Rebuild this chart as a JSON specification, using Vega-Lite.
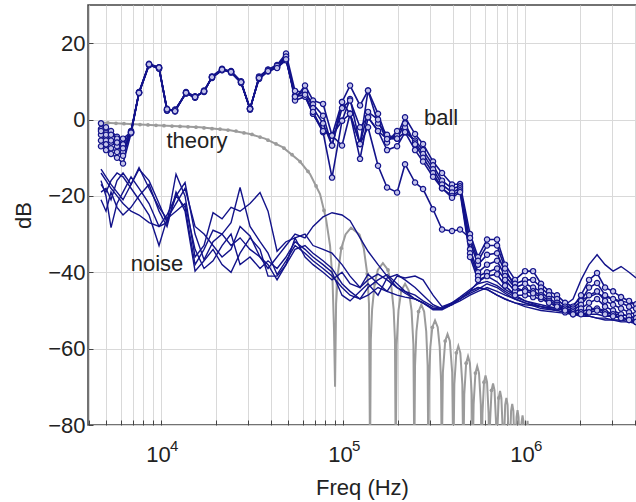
{
"$schema": "https://vega.github.io/schema/vega-lite/v6.json",
"width": 548, "height": 420,
"autosize": {"type": "none"},
"padding": {"left": 88, "top": 5, "right": 0, "bottom": 77},
"config": {
  "font": "Liberation Sans",
  "view": {"stroke": "#444444", "strokeWidth": 1.5},
  "axis": {"gridColor": "#d9d9d9", "gridWidth": 1, "domain": false, "labelFontSize": 22, "titleFontSize": 22, "titleFontWeight": "normal", "labelColor": "#222222", "titleColor": "#222222", "tickColor": "#444444", "labelFont": "Liberation Sans", "titleFont": "Liberation Sans"}
},
"datasets": {
"theory": [
{"f":4620,"dB":-0.8},{"f":8700,"dB":-1.4},{"f":16380,"dB":-2.0},{"f":23940,"dB":-2.8},{"f":30830,"dB":-3.8},{"f":37270,"dB":-5.0},{"f":46810,"dB":-7.3},{"f":58030,"dB":-11},{"f":65860,"dB":-14.3},{"f":74750,"dB":-19.5},{"f":80640,"dB":-26},{"f":84840,"dB":-33},{"f":87540,"dB":-42},{"f":89210,"dB":-55},{"f":90400,"dB":-70},
{"f":91590,"dB":-48.3},{"f":93640,"dB":-40.4},{"f":97870,"dB":-33.7},{"f":103210,"dB":-30.1},{"f":110650,"dB":-28.3},{"f":123220,"dB":-30.1},{"f":129950,"dB":-33.7},{"f":135840,"dB":-40.4},{"f":138880,"dB":-48.3},{"f":140740,"dB":-90},
{"f":142120,"dB":-57.6},{"f":144460,"dB":-49.7},{"f":149240,"dB":-43},{"f":155180,"dB":-39.4},{"f":165550,"dB":-37.6},{"f":176610,"dB":-39.4},{"f":183630,"dB":-43},{"f":189700,"dB":-49.7},{"f":192830,"dB":-57.6},{"f":194720,"dB":-90},
{"f":197020,"dB":-59},{"f":201710,"dB":-50},{"f":208950,"dB":-44.8},{"f":219140,"dB":-43},{"f":229660,"dB":-44.8},{"f":237910,"dB":-50},{"f":243570,"dB":-59},{"f":246450,"dB":-90},
{"f":248640,"dB":-64.5},{"f":253080,"dB":-55.5},{"f":259890,"dB":-50.3},{"f":269260,"dB":-48.5},{"f":278960,"dB":-50.3},{"f":286470,"dB":-55.5},{"f":291600,"dB":-64.5},{"f":294190,"dB":-90},
{"f":296690,"dB":-68.6},{"f":301770,"dB":-59.6},{"f":309530,"dB":-54.4},{"f":320200,"dB":-52.6},{"f":331250,"dB":-54.4},{"f":339770,"dB":-59.6},{"f":345580,"dB":-68.6},{"f":348520,"dB":-90},
{"f":353680,"dB":-66.2},{"f":364220,"dB":-58},{"f":375070,"dB":-56.2},{"f":386230,"dB":-58},{"f":397790,"dB":-66.2},{"f":403660,"dB":-90},
{"f":408800,"dB":-69.3},{"f":419270,"dB":-61.1},{"f":430000,"dB":-59.3},{"f":441000,"dB":-61.1},{"f":452290,"dB":-69.3},{"f":458050,"dB":-90},
{"f":463520,"dB":-72},{"f":474670,"dB":-63.8},{"f":486090,"dB":-62},{"f":497770,"dB":-63.8},{"f":509760,"dB":-72},{"f":515850,"dB":-90},
{"f":521750,"dB":-74.6},{"f":533760,"dB":-66.4},{"f":546030,"dB":-64.6},{"f":558600,"dB":-66.4},{"f":571470,"dB":-74.6},{"f":578010,"dB":-90},
{"f":583590,"dB":-77},{"f":594950,"dB":-68.8},{"f":606500,"dB":-67},{"f":618270,"dB":-68.8},{"f":630470,"dB":-77},{"f":636560,"dB":-90},
{"f":642550,"dB":-79.1},{"f":654680,"dB":-70.9},{"f":667060,"dB":-69.1},{"f":679670,"dB":-70.9},{"f":692510,"dB":-79.1},{"f":699030,"dB":-90},
{"f":704880,"dB":-81.1},{"f":716750,"dB":-72.9},{"f":728840,"dB":-71.1},{"f":741120,"dB":-72.9},{"f":753600,"dB":-81.1},{"f":760140,"dB":-90},
{"f":777700,"dB":-74.7},{"f":789620,"dB":-72.9},{"f":801700,"dB":-74.7},{"f":820190,"dB":-90},
{"f":838120,"dB":-76.3},{"f":850310,"dB":-74.5},{"f":862650,"dB":-76.3},{"f":881110,"dB":-90},
{"f":898020,"dB":-77.9},{"f":909460,"dB":-76.1},{"f":921060,"dB":-77.9},{"f":938670,"dB":-90},
{"f":956680,"dB":-79.3},{"f":968860,"dB":-77.5},{"f":981210,"dB":-79.3},{"f":1000000,"dB":-90},
{"f":1032130,"dB":-78.9},{"f":1065300,"dB":-90}
],
"theoryDots": [
{"f":4620,"dB":-0.8},{"f":5112,"dB":-0.9},{"f":5657,"dB":-1.0},{"f":6260,"dB":-1.1},{"f":6927,"dB":-1.2},{"f":7665,"dB":-1.3},{"f":8481,"dB":-1.4},{"f":9385,"dB":-1.5},{"f":10385,"dB":-1.6},{"f":11491,"dB":-1.7},{"f":12715,"dB":-1.8},{"f":14070,"dB":-1.9},{"f":15569,"dB":-2.0},{"f":17228,"dB":-2.2},{"f":19063,"dB":-2.4},{"f":21094,"dB":-2.5},{"f":23341,"dB":-2.75},{"f":25828,"dB":-3.0},{"f":28579,"dB":-3.5},{"f":31624,"dB":-3.9},{"f":34993,"dB":-4.6},{"f":38721,"dB":-5.4},{"f":42846,"dB":-6.4},{"f":47410,"dB":-7.5},{"f":52461,"dB":-9.2},{"f":58050,"dB":-11.0},{"f":64234,"dB":-13.6},{"f":71077,"dB":-17.4},{"f":78649,"dB":-23.8},
{"f":97870,"dB":-33.7},{"f":135840,"dB":-40.4},{"f":149240,"dB":-43},{"f":176610,"dB":-39.4},{"f":208950,"dB":-44.8},{"f":259890,"dB":-50.3},{"f":309530,"dB":-54.4},{"f":364220,"dB":-58},{"f":419270,"dB":-61.1},{"f":474670,"dB":-63.8},{"f":533760,"dB":-66.4},{"f":594950,"dB":-68.8},{"f":654680,"dB":-70.9},{"f":716750,"dB":-72.9}
],
"ball": [
{"f":4680,"b1":-1,"b2":-2.5,"b3":-4,"b4":-5.5,"b5":-7,"b6":-3},
{"f":4986,"b1":-2,"b2":-3.5,"b3":-5.5,"b4":-6.5,"b5":-8,"b6":-4},
{"f":5312,"b1":-3,"b2":-4,"b3":-6,"b4":-7.5,"b5":-9,"b6":-5.5},
{"f":5731,"b1":-4.5,"b2":-5,"b3":-7,"b4":-8.5,"b5":-10,"b6":-6},
{"f":6183,"b1":-5,"b2":-6.5,"b3":-8.5,"b4":-9.5,"b5":-11.5,"b6":-7.5},
{"f":6842,"b1":-3.3,"b2":-3.0,"b3":-3.5,"b4":-3.2,"b5":-3.6,"b6":-3.4},
{"f":7570,"b1":7.1,"b2":7.0,"b3":7.2,"b4":6.9,"b5":7.1,"b6":7.0},
{"f":8593,"b1":14.5,"b2":14.3,"b3":14.6,"b4":14.2,"b5":14.4,"b6":14.5},
{"f":9750,"b1":13.6,"b2":13.4,"b3":13.7,"b4":13.5,"b5":13.3,"b6":13.6},
{"f":10790,"b1":2.5,"b2":2.8,"b3":2.3,"b4":2.6,"b5":2.4,"b6":2.7},
{"f":11940,"b1":2.4,"b2":2.1,"b3":2.6,"b4":2.3,"b5":2.5,"b6":2.2},
{"f":13720,"b1":7.0,"b2":7.2,"b3":6.8,"b4":7.1,"b5":6.9,"b6":7.0},
{"f":15380,"b1":5.9,"b2":6.1,"b3":5.8,"b4":6.0,"b5":5.7,"b6":5.9},
{"f":17230,"b1":7.4,"b2":7.2,"b3":7.5,"b4":7.3,"b5":7.6,"b6":7.4},
{"f":19060,"b1":11.1,"b2":11.3,"b3":10.9,"b4":11.2,"b5":11.0,"b6":11.1},
{"f":21640,"b1":13.1,"b2":13.3,"b3":12.9,"b4":13.0,"b5":13.2,"b6":13.1},
{"f":24250,"b1":12.5,"b2":12.3,"b3":12.6,"b4":12.4,"b5":12.7,"b6":12.5},
{"f":27520,"b1":9.8,"b2":9.6,"b3":10.0,"b4":9.7,"b5":9.9,"b6":9.8},
{"f":30830,"b1":2.8,"b2":3.0,"b3":2.6,"b4":2.9,"b5":2.7,"b6":2.8},
{"f":34550,"b1":11.0,"b2":10.6,"b3":11.3,"b4":10.8,"b5":11.1,"b6":10.9},
{"f":38720,"b1":12.9,"b2":12.6,"b3":13.1,"b4":12.8,"b5":13.0,"b6":12.7},
{"f":43400,"b1":14.0,"b2":13.6,"b3":14.3,"b4":13.8,"b5":14.1,"b6":13.5},
{"f":48620,"b1":16.8,"b2":15.5,"b3":17.3,"b4":16.0,"b5":16.5,"b6":15.8},
{"f":54480,"b1":5.4,"b2":6.3,"b3":7.5,"b4":6.0,"b5":5.0,"b6":6.0},
{"f":61830,"b1":8.9,"b2":6.3,"b3":7.0,"b4":7.5,"b5":6.0,"b6":6.5},
{"f":68420,"b1":5.0,"b2":1.5,"b3":4.0,"b4":3.0,"b5":1.5,"b6":2.0},
{"f":77660,"b1":4.1,"b2":-3.3,"b3":1.0,"b4":-1.0,"b5":-3.0,"b6":-3.0},
{"f":87000,"b1":-4.2,"b2":-15.2,"b3":-6.8,"b4":-6.8,"b5":-4.2,"b6":-4.2},
{"f":98740,"b1":4.6,"b2":-0.3,"b3":4.6,"b4":3.0,"b5":-6.8,"b6":-0.3},
{"f":109300,"b1":8.9,"b2":5.4,"b3":1.5,"b4":5.0,"b5":1.5,"b6":1.5},
{"f":124000,"b1":3.7,"b2":-6.4,"b3":-6.4,"b4":-2.0,"b5":-10.3,"b6":-6.4},
{"f":137200,"b1":7.6,"b2":7.6,"b3":2.0,"b4":0.6,"b5":0.6,"b6":-2.0},
{"f":155700,"b1":1.5,"b2":-1.0,"b3":0.0,"b4":-3.0,"b5":-3.0,"b6":-12.1},
{"f":174500,"b1":-5.1,"b2":-4.0,"b3":-6.0,"b4":-5.1,"b5":-8.0,"b6":-17.8},
{"f":198100,"b1":-4.2,"b2":-5.0,"b3":-3.0,"b4":-5.0,"b5":-7.0,"b6":-19.1},
{"f":219100,"b1":0.6,"b2":-3.3,"b3":-2.0,"b4":-1.0,"b5":-3.3,"b6":-11.7},
{"f":248700,"b1":-3.8,"b2":-5.5,"b3":-6.0,"b4":-6.5,"b5":-8.0,"b6":-16.5},
{"f":275200,"b1":-6.4,"b2":-8.0,"b3":-9.0,"b4":-10.0,"b5":-11.0,"b6":-18.2},
{"f":312200,"b1":-11.0,"b2":-12.0,"b3":-13.0,"b4":-14.0,"b5":-15.0,"b6":-23.5},
{"f":349900,"b1":-14.0,"b2":-16.0,"b3":-17.0,"b4":-18.0,"b5":-18.0,"b6":-28.8},
{"f":397000,"b1":-17.0,"b2":-18.0,"b3":-19.1,"b4":-20.0,"b5":-20.5,"b6":-29.2},
{"f":439400,"b1":-16.9,"b2":-17.5,"b3":-18.0,"b4":-18.5,"b5":-19.0,"b6":-28.8},
{"f":498600,"b1":-30,"b2":-32,"b3":-34,"b4":-35,"b5":-36,"b6":-31},
{"f":551700,"b1":-36,"b2":-38,"b3":-40,"b4":-41,"b5":-42,"b6":-37},
{"f":618300,"b1":-31.4,"b2":-35.4,"b3":-38,"b4":-40,"b5":-41,"b6":-33},
{"f":701700,"b1":-31.4,"b2":-35,"b3":-37,"b4":-39,"b5":-40.5,"b6":-33},
{"f":776400,"b1":-38,"b2":-40,"b3":-41,"b4":-42,"b5":-43.5,"b6":-39},
{"f":881200,"b1":-42,"b2":-43,"b3":-44,"b4":-45,"b5":-46,"b6":-44},
{"f":1000000,"b1":-39.7,"b2":-42,"b3":-43,"b4":-44.5,"b5":-46,"b6":-45},
{"f":1107000,"b1":-39.7,"b2":-42,"b3":-44,"b4":-45,"b5":-46.5,"b6":-45.5},
{"f":1224000,"b1":-43,"b2":-44,"b3":-45,"b4":-46,"b5":-47,"b6":-46.5},
{"f":1355000,"b1":-45,"b2":-46,"b3":-47,"b4":-47.5,"b5":-48,"b6":-48},
{"f":1499000,"b1":-46,"b2":-47,"b3":-48,"b4":-48.5,"b5":-49,"b6":-49},
{"f":1659000,"b1":-48,"b2":-49,"b3":-49.5,"b4":-50,"b5":-50.5,"b6":-50},
{"f":1835000,"b1":-49,"b2":-49.5,"b3":-50,"b4":-50.5,"b5":-51,"b6":-51},
{"f":2031000,"b1":-46,"b2":-47.5,"b3":-48.5,"b4":-49.5,"b5":-50.5,"b6":-51},
{"f":2247000,"b1":-42,"b2":-44,"b3":-46,"b4":-48,"b5":-49.5,"b6":-50.5},
{"f":2487000,"b1":-40.2,"b2":-42.8,"b3":-45,"b4":-47,"b5":-49.5,"b6":-50},
{"f":2752000,"b1":-44,"b2":-46,"b3":-47.5,"b4":-49,"b5":-50.5,"b6":-51},
{"f":3045000,"b1":-45,"b2":-47,"b3":-48.5,"b4":-50,"b5":-51,"b6":-51.5},
{"f":3369000,"b1":-46.5,"b2":-48,"b3":-49.5,"b4":-51,"b5":-52,"b6":-52},
{"f":3727000,"b1":-47.5,"b2":-49,"b3":-50.5,"b4":-51.5,"b5":-52.5,"b6":-52.5},
{"f":4073000,"b1":-48.4,"b2":-49.5,"b3":-51,"b4":-52,"b5":-53,"b6":-53}
],
"noise": [
{"f":4680,"n1":-13,"n2":-16,"n3":-19,"n4":-21,"n5":-17,"n6":-14},
{"f":4986,"n1":-15,"n2":-20,"n3":-18,"n4":-24,"n5":-19,"n6":-16},
{"f":5312,"n1":-17,"n2":-28.3,"n3":-21,"n4":-19,"n5":-16,"n6":-18},
{"f":5731,"n1":-19,"n2":-22,"n3":-16,"n4":-23,"n5":-14,"n6":-20},
{"f":6183,"n1":-21,"n2":-19,"n3":-14,"n4":-25,"n5":-15,"n6":-22},
{"f":6842,"n1":-17,"n2":-15,"n3":-17,"n4":-23,"n5":-18,"n6":-24},
{"f":7570,"n1":-13,"n2":-18,"n3":-12.6,"n4":-20,"n5":-21,"n6":-25},
{"f":8593,"n1":-16,"n2":-22,"n3":-18,"n4":-17,"n5":-25,"n6":-27},
{"f":9750,"n1":-22,"n2":-28,"n3":-23,"n4":-24,"n5":-33,"n6":-28},
{"f":10790,"n1":-27,"n2":-27,"n3":-26,"n4":-28,"n5":-26,"n6":-25},
{"f":12090,"n1":-14.3,"n2":-20,"n3":-22,"n4":-19,"n5":-24,"n6":-20},
{"f":13550,"n1":-20,"n2":-16.5,"n3":-18,"n4":-24,"n5":-22,"n6":-23},
{"f":15380,"n1":-36,"n2":-30,"n3":-28,"n4":-39.7,"n5":-34,"n6":-38},
{"f":17230,"n1":-33,"n2":-36.7,"n3":-30,"n4":-37,"n5":-39,"n6":-34},
{"f":19310,"n1":-24.4,"n2":-32,"n3":-33,"n4":-34,"n5":-37,"n6":-29},
{"f":21640,"n1":-26,"n2":-30,"n3":-36,"n4":-38,"n5":-33,"n6":-30},
{"f":24250,"n1":-23,"n2":-27,"n3":-34,"n4":-40,"n5":-30,"n6":-33},
{"f":27180,"n1":-24,"n2":-17.8,"n3":-28,"n4":-35,"n5":-38,"n6":-31},
{"f":30830,"n1":-22,"n2":-28,"n3":-30.5,"n4":-31,"n5":-36,"n6":-34},
{"f":34990,"n1":-19.1,"n2":-32,"n3":-36,"n4":-34,"n5":-39,"n6":-36},
{"f":38720,"n1":-24,"n2":-35,"n3":-38,"n4":-41,"n5":-37,"n6":-39},
{"f":43400,"n1":-34.5,"n2":-40.6,"n3":-42,"n4":-41,"n5":-39,"n6":-36},
{"f":48620,"n1":-32,"n2":-37,"n3":-38,"n4":-38,"n5":-36,"n6":-33},
{"f":54480,"n1":-31,"n2":-33,"n3":-31,"n4":-34,"n5":-32,"n6":-30},
{"f":61830,"n1":-30,"n2":-35,"n3":-36,"n4":-33,"n5":-34,"n6":-31},
{"f":68420,"n1":-33,"n2":-37,"n3":-38,"n4":-35,"n5":-36,"n6":-28},
{"f":77660,"n1":-34,"n2":-39,"n3":-40,"n4":-37,"n5":-38,"n6":-25.5},
{"f":87000,"n1":-35,"n2":-41,"n3":-42,"n4":-39,"n5":-40,"n6":-24.4},
{"f":98740,"n1":-38,"n2":-44,"n3":-40,"n4":-43,"n5":-46,"n6":-25},
{"f":109300,"n1":-41,"n2":-46,"n3":-43,"n4":-45,"n5":-47.5,"n6":-26.5},
{"f":124000,"n1":-44,"n2":-47,"n3":-44,"n4":-47,"n5":-45,"n6":-31},
{"f":137200,"n1":-42,"n2":-44,"n3":-40.5,"n4":-46,"n5":-43,"n6":-34.5},
{"f":155700,"n1":-40.5,"n2":-42,"n3":-43,"n4":-44,"n5":-46,"n6":-38},
{"f":174500,"n1":-42,"n2":-40.6,"n3":-45,"n4":-45,"n5":-41.5,"n6":-41},
{"f":198100,"n1":-44,"n2":-43,"n3":-46,"n4":-41,"n5":-40.6,"n6":-44},
{"f":219100,"n1":-45,"n2":-45,"n3":-46.5,"n4":-41.5,"n5":-42,"n6":-45.5},
{"f":248700,"n1":-47,"n2":-46,"n3":-47,"n4":-41,"n5":-44,"n6":-47},
{"f":275200,"n1":-48,"n2":-47.5,"n3":-48,"n4":-42,"n5":-46,"n6":-48},
{"f":312200,"n1":-49.5,"n2":-49,"n3":-49.5,"n4":-46,"n5":-48.5,"n6":-49.8},
{"f":349900,"n1":-49.4,"n2":-49.4,"n3":-49.5,"n4":-49,"n5":-49.5,"n6":-49.8},
{"f":397000,"n1":-48,"n2":-48.5,"n3":-48,"n4":-48,"n5":-48.5,"n6":-48.5},
{"f":439400,"n1":-47,"n2":-47,"n3":-46.5,"n4":-47,"n5":-47.5,"n6":-47},
{"f":498600,"n1":-45,"n2":-45.5,"n3":-44.5,"n4":-45,"n5":-46,"n6":-45},
{"f":551700,"n1":-44,"n2":-44.5,"n3":-43,"n4":-42.5,"n5":-45,"n6":-44},
{"f":618300,"n1":-44.5,"n2":-43,"n3":-42.4,"n4":-41,"n5":-44,"n6":-44.5},
{"f":701700,"n1":-46,"n2":-44,"n3":-43.5,"n4":-42.5,"n5":-45,"n6":-46},
{"f":776400,"n1":-47,"n2":-45.5,"n3":-45,"n4":-44.5,"n5":-46,"n6":-47},
{"f":881200,"n1":-48,"n2":-47,"n3":-46.5,"n4":-46,"n5":-47,"n6":-48},
{"f":1000000,"n1":-48.5,"n2":-48,"n3":-47.5,"n4":-47.5,"n5":-48,"n6":-49},
{"f":1224000,"n1":-49,"n2":-49.5,"n3":-49,"n4":-48.5,"n5":-49,"n6":-50},
{"f":1499000,"n1":-50,"n2":-50,"n3":-49.5,"n4":-49.5,"n5":-50,"n6":-50.5},
{"f":1835000,"n1":-47,"n2":-48.5,"n3":-50,"n4":-50.5,"n5":-51,"n6":-51},
{"f":2031000,"n1":-42,"n2":-47,"n3":-50,"n4":-51,"n5":-51,"n6":-51.5},
{"f":2247000,"n1":-38,"n2":-46.5,"n3":-50,"n4":-51,"n5":-51.5,"n6":-51.5},
{"f":2487000,"n1":-35.4,"n2":-45.5,"n3":-49.5,"n4":-51,"n5":-52,"n6":-52},
{"f":2752000,"n1":-38,"n2":-46.5,"n3":-50,"n4":-51.5,"n5":-52,"n6":-52.5},
{"f":3045000,"n1":-39.7,"n2":-47,"n3":-51,"n4":-51.5,"n5":-52.5,"n6":-52.5},
{"f":3369000,"n1":-38.5,"n2":-47.5,"n3":-51,"n4":-52,"n5":-52.5,"n6":-53},
{"f":3727000,"n1":-40,"n2":-48,"n3":-51.5,"n4":-52,"n5":-53,"n6":-53},
{"f":4073000,"n1":-41.5,"n2":-48.5,"n3":-52,"n4":-52.5,"n5":-53,"n6":-53.5}
],
"labels": [
{"f":15770,"dB":-5.5,"label":"theory"},
{"f":9506,"dB":-37.9,"label":"noise"},
{"f":345500,"dB":0.3,"label":"ball"}
],
"exponents": [
{"f":10000,"dB":-80,"exp":"4"},
{"f":100000,"dB":-80,"exp":"5"},
{"f":1000000,"dB":-80,"exp":"6"}
]
},
"encoding": {
  "x": {"field": "f", "type": "quantitative",
    "scale": {"type": "log", "domain": [3970, 4070000], "nice": false},
    "axis": {"title": "Freq (Hz)", "values": [4000,5000,6000,7000,8000,9000,10000,20000,30000,40000,50000,60000,70000,80000,90000,100000,200000,300000,400000,500000,600000,700000,800000,900000,1000000,2000000,3000000,4000000],
      "labelExpr": "datum.value == 10000 || datum.value == 100000 || datum.value == 1000000 ? '10' : ''",
      "labelOffset": -3,
      "tickSize": -5, "labelPadding": 24, "titlePadding": 12, "labelFlush": false, "labelOverlap": false}},
  "y": {"field": "dB", "type": "quantitative",
    "scale": {"domain": [-80, 30], "nice": false},
    "axis": {"title": "dB", "values": [-80,-60,-40,-20,0,20], "tickSize": -5, "labelPadding": 8, "titlePadding": 12, "format": "d"}}
},
"layer": [
  {"data": {"name": "theory"}, "mark": {"type": "line", "color": "#9b9b9b", "strokeWidth": 2, "clip": true}},
  {"data": {"name": "theoryDots"}, "mark": {"type": "point", "filled": true, "color": "#9b9b9b", "size": 14, "opacity": 1, "clip": true}},
  {"data": {"name": "noise"}, "transform": [{"fold": ["n1","n2","n3","n4","n5","n6"], "as": ["series","dB"]}],
   "mark": {"type": "line", "color": "#13138a", "strokeWidth": 1.4, "clip": true},
   "encoding": {"detail": {"field": "series"}}},
  {"data": {"name": "ball"}, "transform": [{"fold": ["b1","b2","b3","b4","b5","b6"], "as": ["series","dB"]}],
   "mark": {"type": "line", "color": "#13138a", "strokeWidth": 1.6, "clip": true,
     "point": {"filled": true, "fill": "#c4c4ea", "stroke": "#13138a", "strokeWidth": 1.2, "size": 28, "opacity": 1}},
   "encoding": {"detail": {"field": "series"}}},
  {"data": {"name": "labels"}, "mark": {"type": "text", "fontSize": 22, "font": "Liberation Sans", "color": "#222222", "align": "center", "baseline": "middle"},
   "encoding": {"text": {"field": "label"}}},
  {"data": {"name": "exponents"}, "mark": {"type": "text", "fontSize": 15, "font": "Liberation Sans", "color": "#222222", "align": "left", "baseline": "middle", "dx": 9, "dy": 21},
   "encoding": {"text": {"field": "exp"}}}
]
}
